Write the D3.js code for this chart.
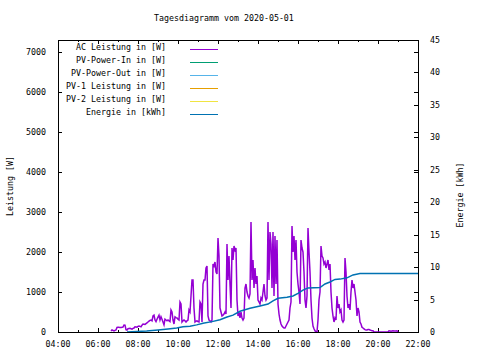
<!DOCTYPE html>
<html>
<head>
<meta charset="utf-8">
<script src="https://cdn.jsdelivr.net/npm/d3@7"></script>
<style>
  body { margin: 0; background: #fff; }
  text { font-family: "DejaVu Sans Mono", "Liberation Mono", monospace; font-size: 8.3px; fill: #000; }
</style>
</head>
<body>
<div id="chart"></div>
<script>
// AC Leistung, alle 3 Minuten ab 06:39
const acStart = "06:39";
const acStepMinutes = 3;
const acPower = [
  25, 50, 40, 25, 40, 50, 115, 120, 120, 110, 110, 120, 125, 175, 170, 60, 50, 80, 85, 90,
  80, 70, 90, 100, 130, 125, 120, 140, 150, 140, 130, 170, 200, 195, 190, 210, 230, 250, 270, 290,
  300, 280, 400, 420, 300, 260, 320, 370, 420, 300, 380, 320, 250, 180, 320, 300, 280, 300, 280, 260,
  550, 500, 300, 200, 380, 360, 350, 320, 300, 750, 700, 250, 280, 300, 280, 250, 280, 300, 550, 500,
  900, 1300, 1300, 600, 250, 270, 280, 260, 250, 750, 700, 250, 1200, 1300, 1300, 1600, 1650, 400, 300, 280,
  250, 300, 1700, 1650, 1750, 1500, 1450, 2350, 1900, 600, 500, 400, 420, 450, 500, 450, 2200, 1300, 1900, 1200,
  600, 2100, 1800, 2150, 2050, 2100, 800, 400, 500, 350, 500, 350, 300, 350, 1100, 1200, 1000, 900, 850, 950,
  2750, 1300, 1800, 1100, 1600, 1200, 1400, 800, 750, 700, 850, 800, 1000, 1200, 900, 800, 850, 2750, 1300, 2500,
  2200, 1100, 2500, 900, 2400, 1200, 2300, 700, 450, 300, 200, 150, 120, 100, 100, 150, 200, 250, 300, 600,
  750, 2650, 2000, 2400, 1800, 2300, 1500, 1200, 1000, 700, 2300, 2100, 2000, 1500, 800, 600, 900, 2600, 2000, 1500,
  800, 350, 150, 80, 30, 0, 0, 300, 800, 1000, 2150, 1900, 1850, 1700, 1750, 1600, 1700, 1800, 1550, 1700,
  1000, 600, 400, 250, 350, 300, 900, 600, 700, 500, 550, 300, 250, 300, 1850, 1500, 900, 600, 700, 550,
  1000, 1300, 1100, 1200, 1000, 800, 400, 600, 500, 250, 200, 120, 100, 80, 60, 50, 50, 60, 60, 50,
  40, 30, 30, 0, 0, 0, 0, 0, 0, 0, 0, 0, 0, 0, 0, 0, 0, 0, 30, 25,
  20, 25, 30, 25, 25, 25, 30, 0
];

// Energie (kWh), kumuliert
const energyTimes = ["07:27", "08:26", "09:00", "09:30", "09:56", "10:15", "10:36", "10:56", "11:15", "11:42",
  "12:06", "12:27", "12:45", "13:06", "13:36", "14:06", "14:30", "14:45", "15:00", "15:27",
  "15:45", "16:00", "16:15", "16:30", "17:06", "17:21", "17:36", "17:51", "18:06", "18:27",
  "18:45", "19:06", "22:00"];
const energyKwh = [0, 0.15, 0.3, 0.45, 0.6, 0.8, 0.9, 1.1, 1.35, 1.6,
  1.9, 2.3, 2.6, 3.2, 3.65, 4.0, 4.3, 4.8, 5.2, 5.35,
  5.55, 5.95, 6.45, 6.8, 6.85, 7.4, 7.7, 8.1, 8.15, 8.35,
  8.8, 9.0, 9.0];

const legendLabels = ["AC Leistung in [W]", "PV-Power-In in [W]", "PV-Power-Out in [W]",
  "PV-1 Leistung in [W]", "PV-2 Leistung in [W]", "Energie in [kWh]"];
const legendColors = ["#9400d3", "#009e73", "#56b4e9", "#e69f00", "#f0e442", "#0072b2"];

const yTicks = [0, 1000, 2000, 3000, 4000, 5000, 6000, 7000];
const y2Ticks = [0, 5, 10, 15, 20, 25, 30, 35, 40, 45];

const width = 480, height = 360;
const plotLeft = 58, plotRight = 418, plotTop = 40, plotBottom = 332;

const parseTime = d3.timeParse("%Y-%m-%d %H:%M");
const day = "2020-05-01 ";

const svg = d3.select("#chart").append("svg")
  .attr("width", width)
  .attr("height", height);

const x = d3.scaleTime()
  .domain([parseTime(day + "04:00"), parseTime(day + "22:00")])
  .range([plotLeft, plotRight]);
const y = d3.scaleLinear().domain([0, 7300]).range([plotBottom, plotTop]);
const y2 = d3.scaleLinear().domain([0, 45]).range([plotBottom, plotTop]);

const px = v => Math.round(v) + 0.5;

// Titel
svg.append("text")
  .attr("x", 154)
  .attr("y", 21)
  .text("Tagesdiagramm vom 2020-05-01");

// Ticks
const ticks = svg.append("g").attr("stroke", "#000").attr("stroke-width", 1);
const hours = d3.timeHour.range(x.domain()[0], d3.timeMinute.offset(x.domain()[1], 1));
hours.forEach(h => {
  const len = h.getHours() % 2 === 0 ? 4 : 2;
  const xp = px(x(h));
  ticks.append("line").attr("x1", xp).attr("x2", xp).attr("y1", plotBottom).attr("y2", plotBottom - len);
  ticks.append("line").attr("x1", xp).attr("x2", xp).attr("y1", plotTop).attr("y2", plotTop + len);
});
yTicks.forEach(t => {
  const yp = px(y(t));
  ticks.append("line").attr("x1", plotLeft).attr("x2", plotLeft + 4).attr("y1", yp).attr("y2", yp);
  ticks.append("line").attr("x1", plotRight).attr("x2", plotRight - 4).attr("y1", yp).attr("y2", yp);
});
y2Ticks.forEach(t => {
  const yp = px(y2(t));
  ticks.append("line").attr("x1", plotRight).attr("x2", plotRight - 4).attr("y1", yp).attr("y2", yp);
});

// Tick-Beschriftungen
const timeFmt = d3.timeFormat("%H:%M");
svg.append("g").selectAll("text")
  .data(hours.filter(h => h.getHours() % 2 === 0))
  .join("text")
  .attr("x", d => x(d))
  .attr("y", 347)
  .attr("text-anchor", "middle")
  .text(d => timeFmt(d));

svg.append("g").selectAll("text")
  .data(yTicks)
  .join("text")
  .attr("x", 46)
  .attr("y", d => y(d) + 3)
  .attr("text-anchor", "end")
  .text(d => d);

svg.append("g").selectAll("text")
  .data(y2Ticks)
  .join("text")
  .attr("x", 430)
  .attr("y", d => y2(d) + 3)
  .text(d => d);

// Achsentitel
svg.append("text")
  .attr("transform", "translate(13,186) rotate(-90)")
  .attr("text-anchor", "middle")
  .text("Leistung [W]");
svg.append("text")
  .attr("transform", "translate(463,195) rotate(-90)")
  .attr("text-anchor", "middle")
  .text("Energie [kWh]");

// Daten
const acData = acPower.map((w, i) => ({
  t: d3.timeMinute.offset(parseTime(day + acStart), i * acStepMinutes),
  w
}));
const energyData = energyTimes.map((t, i) => ({ t: parseTime(day + t), e: energyKwh[i] }));

const plot = svg.append("g");

plot.append("path")
  .datum(acData)
  .attr("fill", "none")
  .attr("stroke", legendColors[0])
  .attr("stroke-width", 1.5)
  .attr("d", d3.line().x(d => x(d.t)).y(d => y(d.w)));

plot.append("path")
  .datum(energyData)
  .attr("fill", "none")
  .attr("stroke", legendColors[5])
  .attr("stroke-width", 1.5)
  .attr("d", d3.line().x(d => x(d.t)).y(d => y2(d.e)));

// Rahmen
svg.append("rect")
  .attr("x", plotLeft + 0.5)
  .attr("y", plotTop + 0.5)
  .attr("width", plotRight - plotLeft)
  .attr("height", plotBottom - plotTop)
  .attr("fill", "none")
  .attr("stroke", "#000");

// Legende
const legend = svg.append("g");
legendLabels.forEach((label, i) => {
  const ly = 47 + i * 13;
  legend.append("text")
    .attr("x", 166)
    .attr("y", ly + 3)
    .attr("text-anchor", "end")
    .text(label);
  legend.append("line")
    .attr("x1", 190).attr("x2", 218)
    .attr("y1", ly + 2.5).attr("y2", ly + 2.5)
    .attr("stroke", legendColors[i])
    .attr("stroke-width", 1);
});
</script>
</body>
</html>
